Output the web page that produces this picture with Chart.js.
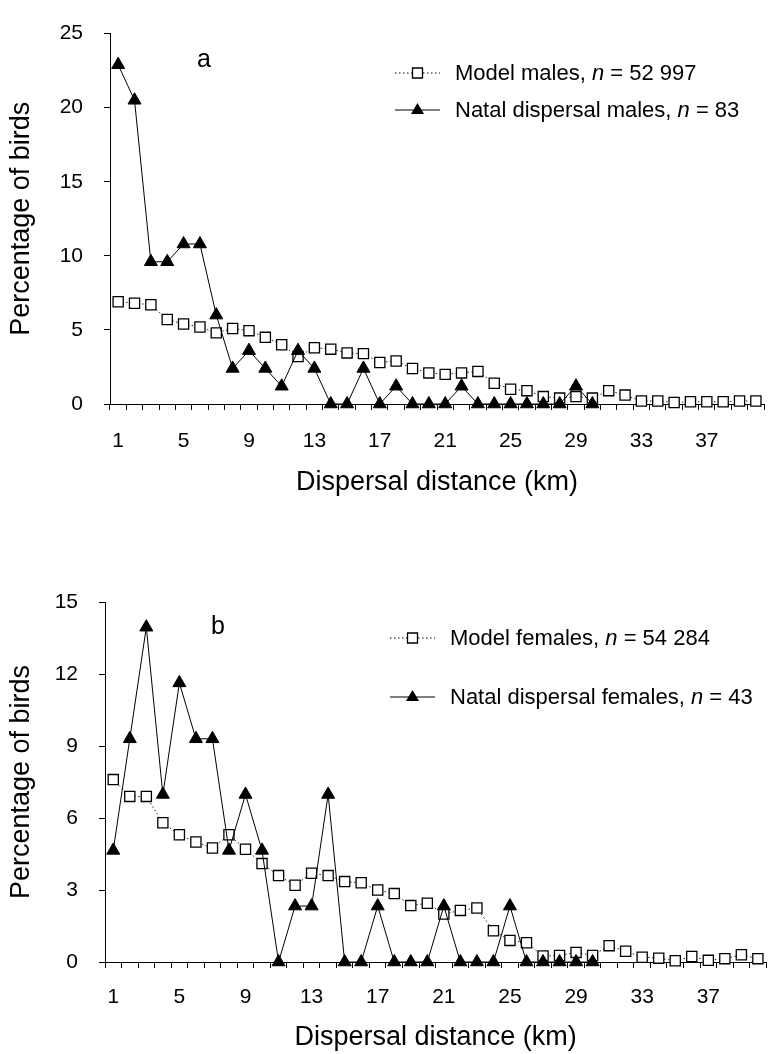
<!DOCTYPE html>
<html>
<head>
<meta charset="utf-8">
<script src="https://cdn.jsdelivr.net/npm/chart.js@4.4.1/dist/chart.umd.min.js"></script>
<style>
  body { margin: 0; background: #fff; font-family: "Liberation Sans", Arial, sans-serif; }
  .panel { position: absolute; left: 0; width: 775px; height: 527px; }
  .lbl { position: absolute; font-size: 22px; color: #000; white-space: nowrap; transform: translateY(-50%); }
  .letter { position: absolute; font-size: 25px; color: #000; transform: translate(-50%, -50%); }
</style>
</head>
<body>
<div class="panel" style="top:0px">
  <canvas id="chartA"></canvas>
  <div class="letter" style="left:204px;top:58px">a</div>
  <div class="lbl" style="left:455px;top:73px">Model males, <i>n</i> = 52 997</div>
  <div class="lbl" style="left:455px;top:110px">Natal dispersal males, <i>n</i> = 83</div>
</div>
<div class="panel" style="top:527px">
  <canvas id="chartB"></canvas>
  <div class="letter" style="left:218px;top:98px">b</div>
  <div class="lbl" style="left:450px;top:111px">Model females, <i>n</i> = 54 284</div>
  <div class="lbl" style="left:450px;top:170px">Natal dispersal females, <i>n</i> = 43</div>
</div>
<script>
// distance classes (km)
const distances = ['1','2','3','4','5','6','7','8','9','10','11','12','13','14','15','16','17','18','19','20',
                   '21','22','23','24','25','26','27','28','29','30','31','32','33','34','35','36','37','38','39','40'];

// panel a - males
const maleModel = [6.9,6.8,6.7,5.7,5.4,5.2,4.8,5.1,4.95,4.5,4.0,3.2,3.8,3.7,3.45,3.4,2.8,2.9,2.4,2.1,
                   2.0,2.1,2.2,1.4,1.0,0.9,0.5,0.4,0.5,0.4,0.9,0.6,0.2,0.2,0.1,0.15,0.15,0.15,0.2,0.2];
const maleNatal = [22.9,20.5,9.6,9.6,10.8,10.8,6.0,2.4,3.6,2.4,1.2,3.6,2.4,0,0,2.4,0,1.2,0,0,
                   0,1.2,0,0,0,0,0,0,1.2,0,null,null,null,null,null,null,null,null,null,null];
const maleTicks = [0,5,10,15,20,25];

// panel b - females
const femaleModel = [7.6,6.9,6.9,5.8,5.3,5.0,4.75,5.3,4.7,4.1,3.6,3.2,3.7,3.6,3.35,3.3,3.0,2.85,2.35,2.45,
                     2.0,2.15,2.25,1.3,0.9,0.8,0.25,0.27,0.4,0.27,0.68,0.45,0.2,0.16,0.05,0.23,0.07,0.14,0.3,0.14];
const femaleNatal = [4.65,9.3,13.95,6.98,11.63,9.3,9.3,4.65,6.98,4.65,0,2.33,2.33,6.98,0,0,2.33,0,0,0,
                     2.33,0,0,0,2.33,0,0,0,0,0,null,null,null,null,null,null,null,null,null,null];
const femaleTicks = [0,3,6,9,12,15];

const FONT = "'Liberation Sans', Arial, sans-serif";

// draws the little line+marker samples next to the html legend text
const legendMarks = {
  id: 'legendMarks',
  afterDraw(chart, args, opts) {
    const ctx = chart.ctx;
    opts.rows.forEach(function (r) {
      ctx.save();
      ctx.strokeStyle = '#000';
      ctx.lineWidth = 1;
      ctx.setLineDash(r.dotted ? [1.5, 2.5] : []);
      ctx.beginPath();
      ctx.moveTo(opts.x1, r.y);
      ctx.lineTo(opts.x2, r.y);
      ctx.stroke();
      ctx.setLineDash([]);
      const cx = (opts.x1 + opts.x2) / 2;
      ctx.beginPath();
      if (r.dotted) {
        ctx.rect(cx - 5, r.y - 5, 10, 10);
        ctx.fillStyle = '#fff';
        ctx.fill();
        ctx.lineWidth = 1.3;
        ctx.stroke();
      } else {
        ctx.moveTo(cx, r.y - 7);
        ctx.lineTo(cx + 6.5, r.y + 4);
        ctx.lineTo(cx - 6.5, r.y + 4);
        ctx.closePath();
        ctx.fillStyle = '#000';
        ctx.fill();
      }
      ctx.restore();
    });
  }
};

function makeChart(id, model, natal, yTicks, geo) {
  const ctx = document.getElementById(id).getContext('2d');
  return new Chart(ctx, {
    type: 'line',
    data: {
      labels: distances,
      datasets: [{
        label: 'model',
        data: model,
        borderColor: '#222',
        borderWidth: 1,
        borderDash: [1.5, 2.5],
        pointStyle: 'rect',
        pointRadius: 7.2,
        pointBackgroundColor: '#fff',
        pointBorderColor: '#000',
        pointBorderWidth: 1.3,
        tension: 0,
        clip: false,
        order: 2
      }, {
        label: 'natal',
        data: natal,
        borderColor: '#000',
        borderWidth: 1,
        pointStyle: 'triangle',
        pointRadius: 7.5,
        pointBackgroundColor: '#000',
        pointBorderColor: '#000',
        pointBorderWidth: 1,
        tension: 0,
        clip: false,
        order: 1
      }]
    },
    options: {
      responsive: true,
      maintainAspectRatio: false,
      animation: false,
      events: [],
      layout: { padding: { left: 0, right: geo.right, top: geo.top, bottom: 0 } },
      plugins: {
        legend: { display: false },
        tooltip: { enabled: false },
        legendMarks: { x1: geo.lx1, x2: geo.lx2, rows: geo.rows }
      },
      scales: {
        x: {
          type: 'category',
          offset: true,
          grid: { offset: true, drawOnChartArea: false, drawTicks: true, tickLength: 6, color: '#000', lineWidth: 1 },
          border: { display: true, color: '#000', width: 1 },
          ticks: {
            autoSkip: false, maxRotation: 0, color: '#000', padding: geo.xPad,
            font: { family: FONT, size: 21 },
            callback: function (v, i) { return i % 4 === 0 ? distances[i] : ''; }
          },
          title: { display: true, text: 'Dispersal distance (km)', color: '#000',
                   font: { family: FONT, size: 27 }, padding: { top: 0, bottom: geo.titlePad } },
          afterFit: function (s) { s.height = geo.xHeight; }
        },
        y: {
          min: 0, max: yTicks[yTicks.length - 1],
          afterBuildTicks: function (s) { s.ticks = yTicks.map(function (v) { return { value: v }; }); },
          grid: { drawOnChartArea: false, drawTicks: true, tickLength: 6, color: '#000', lineWidth: 1 },
          border: { display: true, color: '#000', width: 1 },
          ticks: { color: '#000', padding: 21, font: { family: FONT, size: 21 } },
          title: { display: true, text: 'Percentage of birds', color: '#000',
                   font: { family: FONT, size: 27 }, padding: { top: 5, bottom: 0 } },
          afterFit: function (s) { s.width = geo.yWidth; }
        }
      }
    },
    plugins: [legendMarks]
  });
}

makeChart('chartA', maleModel, maleNatal, maleTicks, {
  top: 15, right: 10, yWidth: 110, xHeight: 123, xPad: 19, titlePad: 28,
  lx1: 395, lx2: 440, rows: [{ y: 73, dotted: true }, { y: 110, dotted: false }]
});
makeChart('chartB', femaleModel, femaleNatal, femaleTicks, {
  top: 75, right: 3, yWidth: 105, xHeight: 92, xPad: 17, titlePad: 0,
  lx1: 390, lx2: 435, rows: [{ y: 111, dotted: true }, { y: 170, dotted: false }]
});
</script>
</body>
</html>
